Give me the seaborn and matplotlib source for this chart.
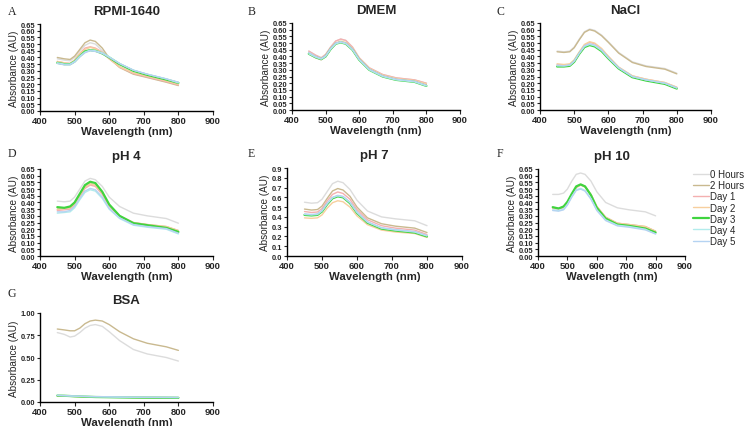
import pandas as pd
import seaborn as sns
import matplotlib.pyplot as plt

# wavelengths (nm) sampled along each spectrum
wavelength = [450, 470, 487, 500, 515, 530, 545, 560, 580, 600, 630, 670, 710, 765, 800]
times = ['0 Hours', '2 Hours', 'Day 1', 'Day 2', 'Day 3', 'Day 4', 'Day 5']
colors = ['#dcdcdc', '#c9b98f', '#f4b0b0', '#f7cf9e', '#3fd43f', '#b2ecec', '#b5d3f2']
widths = [1.0, 1.0, 1.0, 1.0, 1.6, 1.0, 1.0]

# absorbance per time point (rows follow `times`)
rpmi = [
    [0.39, 0.38, 0.375, 0.40, 0.45, 0.49, 0.51, 0.50, 0.45, 0.395, 0.33, 0.28, 0.255, 0.22, 0.195],
    [0.40, 0.39, 0.385, 0.41, 0.46, 0.51, 0.53, 0.52, 0.47, 0.395, 0.325, 0.275, 0.25, 0.215, 0.19],
    [0.37, 0.36, 0.355, 0.38, 0.43, 0.47, 0.48, 0.47, 0.44, 0.39, 0.33, 0.28, 0.255, 0.22, 0.195],
    [0.37, 0.36, 0.355, 0.38, 0.43, 0.46, 0.475, 0.465, 0.435, 0.39, 0.33, 0.285, 0.26, 0.225, 0.20],
    [0.36, 0.35, 0.35, 0.37, 0.41, 0.445, 0.455, 0.45, 0.43, 0.40, 0.35, 0.30, 0.27, 0.235, 0.21],
    [0.36, 0.35, 0.35, 0.37, 0.41, 0.44, 0.455, 0.45, 0.435, 0.405, 0.355, 0.305, 0.275, 0.24, 0.21],
    [0.355, 0.345, 0.345, 0.365, 0.405, 0.435, 0.45, 0.445, 0.43, 0.40, 0.355, 0.305, 0.275, 0.24, 0.215],
]
dmem = [
    [0.44, 0.41, 0.39, 0.415, 0.47, 0.515, 0.53, 0.52, 0.47, 0.39, 0.315, 0.265, 0.24, 0.225, 0.20],
    [0.42, 0.39, 0.375, 0.40, 0.455, 0.495, 0.51, 0.50, 0.455, 0.38, 0.305, 0.255, 0.23, 0.215, 0.19],
    [0.44, 0.41, 0.39, 0.415, 0.47, 0.515, 0.53, 0.52, 0.47, 0.39, 0.315, 0.265, 0.24, 0.225, 0.20],
    [0.43, 0.40, 0.38, 0.405, 0.46, 0.50, 0.515, 0.505, 0.46, 0.385, 0.31, 0.26, 0.235, 0.22, 0.195],
    [0.42, 0.395, 0.38, 0.40, 0.455, 0.495, 0.505, 0.495, 0.45, 0.375, 0.30, 0.25, 0.225, 0.21, 0.18],
    [0.42, 0.395, 0.38, 0.40, 0.455, 0.495, 0.505, 0.495, 0.45, 0.375, 0.30, 0.25, 0.225, 0.21, 0.18],
    [0.43, 0.40, 0.385, 0.405, 0.46, 0.50, 0.51, 0.50, 0.455, 0.38, 0.305, 0.255, 0.23, 0.215, 0.185],
]
nacl = [
    [0.44, 0.435, 0.44, 0.47, 0.53, 0.585, 0.605, 0.595, 0.56, 0.51, 0.43, 0.36, 0.33, 0.31, 0.275],
    [0.435, 0.43, 0.435, 0.465, 0.525, 0.58, 0.60, 0.59, 0.555, 0.505, 0.425, 0.355, 0.325, 0.305, 0.27],
    [0.34, 0.335, 0.34, 0.37, 0.43, 0.485, 0.505, 0.495, 0.455, 0.40, 0.32, 0.255, 0.23, 0.205, 0.17],
    [0.345, 0.34, 0.345, 0.375, 0.435, 0.49, 0.51, 0.50, 0.46, 0.40, 0.32, 0.255, 0.23, 0.205, 0.17],
    [0.325, 0.325, 0.33, 0.36, 0.42, 0.47, 0.485, 0.475, 0.44, 0.385, 0.31, 0.245, 0.22, 0.195, 0.16],
    [0.33, 0.33, 0.335, 0.365, 0.425, 0.475, 0.49, 0.48, 0.445, 0.39, 0.315, 0.25, 0.225, 0.20, 0.165],
    [0.335, 0.33, 0.335, 0.365, 0.425, 0.48, 0.495, 0.485, 0.45, 0.39, 0.315, 0.25, 0.225, 0.20, 0.165],
]
ph4 = [
    [0.41, 0.405, 0.41, 0.44, 0.50, 0.56, 0.58, 0.57, 0.52, 0.44, 0.37, 0.32, 0.30, 0.28, 0.245],
    [0.35, 0.355, 0.36, 0.39, 0.45, 0.515, 0.54, 0.53, 0.47, 0.38, 0.30, 0.25, 0.235, 0.22, 0.19],
    [0.34, 0.345, 0.35, 0.38, 0.44, 0.505, 0.53, 0.52, 0.46, 0.37, 0.295, 0.245, 0.23, 0.215, 0.185],
    [0.35, 0.355, 0.36, 0.39, 0.45, 0.515, 0.54, 0.53, 0.47, 0.38, 0.30, 0.25, 0.235, 0.22, 0.19],
    [0.365, 0.36, 0.37, 0.40, 0.465, 0.53, 0.555, 0.545, 0.48, 0.385, 0.30, 0.245, 0.23, 0.21, 0.18],
    [0.32, 0.325, 0.33, 0.36, 0.42, 0.475, 0.495, 0.485, 0.43, 0.35, 0.28, 0.23, 0.215, 0.20, 0.165],
    [0.33, 0.33, 0.34, 0.37, 0.43, 0.485, 0.505, 0.495, 0.44, 0.355, 0.285, 0.235, 0.22, 0.205, 0.17],
]
ph7 = [
    [0.55, 0.54, 0.545, 0.58, 0.66, 0.74, 0.765, 0.75, 0.68, 0.57, 0.46, 0.40, 0.38, 0.36, 0.31],
    [0.48, 0.47, 0.475, 0.51, 0.59, 0.665, 0.69, 0.675, 0.61, 0.50, 0.39, 0.33, 0.305, 0.285, 0.24],
    [0.455, 0.445, 0.45, 0.485, 0.565, 0.63, 0.655, 0.64, 0.58, 0.475, 0.37, 0.31, 0.285, 0.265, 0.22],
    [0.39, 0.385, 0.39, 0.42, 0.49, 0.545, 0.565, 0.555, 0.50, 0.41, 0.32, 0.265, 0.245, 0.23, 0.19],
    [0.42, 0.415, 0.42, 0.455, 0.53, 0.59, 0.61, 0.60, 0.54, 0.44, 0.34, 0.28, 0.26, 0.24, 0.20],
    [0.425, 0.42, 0.425, 0.46, 0.535, 0.595, 0.615, 0.605, 0.545, 0.445, 0.345, 0.285, 0.265, 0.245, 0.205],
    [0.43, 0.425, 0.43, 0.465, 0.54, 0.60, 0.62, 0.61, 0.55, 0.45, 0.35, 0.29, 0.27, 0.25, 0.21],
]
ph10 = [
    [0.46, 0.46, 0.47, 0.50, 0.56, 0.61, 0.62, 0.61, 0.56, 0.48, 0.40, 0.36, 0.345, 0.33, 0.30],
    [0.36, 0.355, 0.365, 0.40, 0.46, 0.515, 0.535, 0.52, 0.46, 0.37, 0.29, 0.245, 0.235, 0.22, 0.185],
    [0.355, 0.35, 0.36, 0.395, 0.455, 0.51, 0.53, 0.515, 0.455, 0.365, 0.285, 0.24, 0.23, 0.215, 0.18],
    [0.36, 0.355, 0.365, 0.40, 0.46, 0.515, 0.53, 0.52, 0.46, 0.37, 0.29, 0.245, 0.235, 0.22, 0.185],
    [0.365, 0.355, 0.37, 0.405, 0.465, 0.52, 0.535, 0.52, 0.455, 0.36, 0.28, 0.235, 0.225, 0.205, 0.175],
    [0.345, 0.34, 0.35, 0.385, 0.445, 0.495, 0.505, 0.49, 0.43, 0.345, 0.27, 0.23, 0.22, 0.20, 0.165],
    [0.34, 0.335, 0.345, 0.38, 0.44, 0.49, 0.50, 0.485, 0.425, 0.34, 0.265, 0.225, 0.215, 0.195, 0.165],
]
bsa = [
    [0.78, 0.76, 0.73, 0.74, 0.78, 0.83, 0.86, 0.87, 0.85, 0.79, 0.69, 0.59, 0.54, 0.50, 0.46],
    [0.82, 0.81, 0.80, 0.80, 0.83, 0.88, 0.91, 0.92, 0.91, 0.87, 0.79, 0.71, 0.66, 0.62, 0.58],
    [0.07, 0.068, 0.066, 0.064, 0.062, 0.06, 0.059, 0.058, 0.057, 0.056, 0.054, 0.052, 0.051, 0.05, 0.05],
    [0.068, 0.066, 0.064, 0.062, 0.06, 0.059, 0.058, 0.057, 0.056, 0.055, 0.053, 0.051, 0.05, 0.049, 0.048],
    [0.072, 0.07, 0.067, 0.064, 0.062, 0.06, 0.058, 0.056, 0.055, 0.054, 0.052, 0.05, 0.049, 0.048, 0.047],
    [0.074, 0.071, 0.068, 0.066, 0.064, 0.062, 0.06, 0.059, 0.058, 0.057, 0.055, 0.053, 0.052, 0.051, 0.05],
    [0.075, 0.072, 0.069, 0.067, 0.065, 0.063, 0.061, 0.06, 0.059, 0.058, 0.056, 0.054, 0.053, 0.052, 0.051],
]

sns.set_style('ticks')
plt.rcParams['font.family'] = ['Liberation Sans', 'DejaVu Sans']

fig = plt.figure(figsize=(7.5, 4.27), dpi=100)
W, H = 750, 427


def px_axes(left, right, top, bottom):
    return fig.add_axes([left / W, 1 - bottom / H, (right - left) / W, (bottom - top) / H])


panels = [
    ('A', 'RPMI-1640', rpmi, (40, 213, 25, 112), 0.65, 0.05, (8, 12)),
    ('B', 'DMEM', dmem, (292, 460, 24, 111), 0.65, 0.05, (248, 12)),
    ('C', 'NaCl', nacl, (540, 711, 24, 111), 0.65, 0.05, (497, 12)),
    ('D', 'pH 4', ph4, (40, 213, 170, 257), 0.65, 0.05, (8, 154)),
    ('E', 'pH 7', ph7, (287, 462, 169, 257), 0.9, 0.1, (248, 154)),
    ('F', 'pH 10', ph10, (538, 685, 170, 257), 0.65, 0.05, (497, 154)),
    ('G', 'BSA', bsa, (40, 213, 314, 403), 1.0, 0.25, (8, 294)),
]

for letter, title, data, box, ymax, ystep, lpos in panels:
    ax = px_axes(*box)
    rows = []
    for t, vals in zip(times, data):
        for w, v in zip(wavelength, vals):
            rows.append({'Wavelength': w, 'Absorbance': v, 'Time': t})
    df = pd.DataFrame(rows)
    for t, c, lw in zip(times, colors, widths):
        sns.lineplot(data=df[df['Time'] == t], x='Wavelength', y='Absorbance',
                     color=c, lw=lw, ax=ax, label=t, legend=False)
    ax.set_xlim(400, 900)
    ax.set_ylim(0, ymax)
    ax.set_xticks([400, 500, 600, 700, 800, 900])
    n = int(round(ymax / ystep))
    yt = [i * ystep for i in range(n + 1)]
    ax.set_yticks(yt)
    fmt = '{:.2f}' if ystep < 0.1 or ymax == 1.0 else '{:.1f}'
    ax.set_yticklabels([fmt.format(v) for v in yt])
    ax.tick_params(axis='y', labelsize=5.4, length=2.5, width=0.8, pad=1)
    ax.tick_params(axis='x', labelsize=6.8, length=3, width=0.8, pad=0.5)
    for lab in ax.get_xticklabels() + ax.get_yticklabels():
        lab.set_fontweight('bold')
    ax.set_xlabel('Wavelength (nm)', fontsize=8.2, fontweight='bold', labelpad=0.5)
    ax.set_ylabel('Absorbance (AU)', fontsize=7.2, labelpad=1)
    ax.set_title(title, fontsize=9.5, fontweight='bold', pad=7)
    for s in ['left', 'bottom']:
        ax.spines[s].set_linewidth(1.0)
        ax.spines[s].set_color('black')
    sns.despine(ax=ax)
    fig.text(lpos[0] / W, 1 - lpos[1] / H, letter, fontsize=8.5,
             family='Liberation Serif', va='center', ha='left')
    if letter == 'F':
        handles, labels = ax.get_legend_handles_labels()

fig.legend(handles, labels, loc='upper left', bbox_to_anchor=(693 / W, 1 - 170 / H),
           frameon=False, fontsize=7, handlelength=1.6, handletextpad=0.2,
           labelspacing=0.12, borderaxespad=0, borderpad=0)

fig.savefig('out.png', dpi=100)
